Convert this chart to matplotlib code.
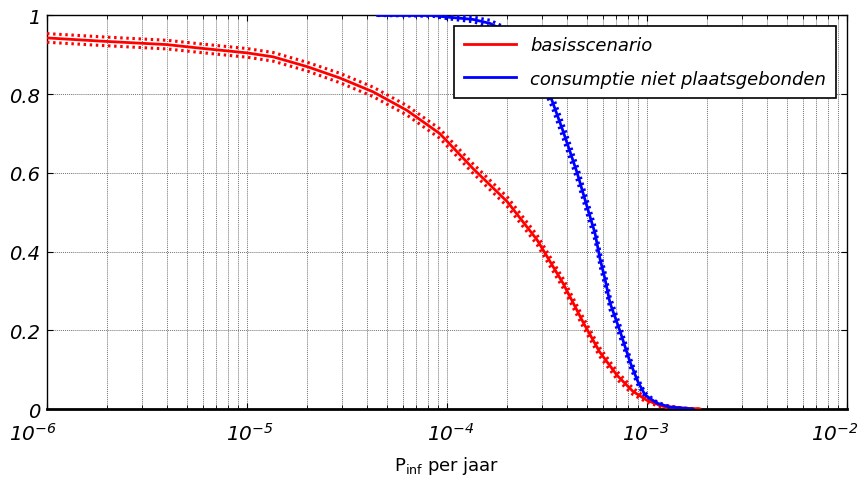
import numpy as np
import matplotlib.pyplot as plt
from matplotlib.ticker import LogLocator, NullFormatter

# basisscenario
red_p = [1.0e-6, 1.84e-6, 3.98e-6, 5.82e-6, 1.0e-5, 1.35e-5, 2.0e-5, 2.92e-5,
         4.27e-5, 6.3e-5, 9.2e-5, 1.35e-4, 2.0e-4, 2.82e-4, 3.8e-4, 4.8e-4,
         5.8e-4, 7.1e-4, 8.5e-4, 1.0e-3, 1.2e-3, 1.5e-3, 1.84e-3]
red_y = [0.943, 0.935, 0.926, 0.917, 0.905, 0.895, 0.870, 0.841,
         0.806, 0.759, 0.700, 0.611, 0.527, 0.430, 0.320, 0.220,
         0.145, 0.085, 0.045, 0.022, 0.007, 0.002, 0.0]
red_band = [0.011, 0.011, 0.011, 0.011, 0.011, 0.011, 0.011, 0.012,
            0.012, 0.012, 0.012, 0.012, 0.012, 0.012, 0.012, 0.012,
            0.011, 0.010, 0.008, 0.005, 0.003, 0.001, 0.0]

# consumptie niet plaatsgebonden
blue_p = [4.5e-5, 8.5e-5, 1.0e-4, 1.35e-4, 1.64e-4, 1.95e-4, 2.32e-4, 2.8e-4,
          3.35e-4, 3.8e-4, 4.47e-4, 5.01e-4, 5.5e-4, 5.82e-4, 6.17e-4, 6.53e-4,
          7.33e-4, 8.22e-4, 9.0e-4, 9.77e-4, 1.12e-3, 1.3e-3, 1.7e-3]
blue_y = [1.0, 1.0, 0.996, 0.99, 0.98, 0.96, 0.925, 0.865,
          0.784, 0.707, 0.601, 0.515, 0.446, 0.382, 0.33, 0.27,
          0.198, 0.12, 0.07, 0.036, 0.015, 0.005, 0.0]
blue_band = [0.0, 0.002, 0.004, 0.006, 0.008, 0.010, 0.012, 0.014,
             0.016, 0.018, 0.018, 0.018, 0.018, 0.018, 0.018, 0.017,
             0.015, 0.012, 0.009, 0.006, 0.003, 0.001, 0.0]

x_ticks = [1e-6, 1e-5, 1e-4, 1e-3, 1e-2]
x_labels = [r'$10^{-6}$', r'$10^{-5}$', r'$10^{-4}$', r'$10^{-3}$', r'$10^{-2}$']
x_label_dx = [-10, 2, 3, -1, -9]  # points
y_ticks = [0, 0.2, 0.4, 0.6, 0.8, 1.0]
y_labels = ['0', '0.2', '0.4', '0.6', '0.8', '1']

plt.rcParams['font.family'] = ['DejaVu Sans']
plt.rcParams['mathtext.fontset'] = 'custom'
plt.rcParams['mathtext.rm'] = 'DejaVu Sans:italic'
plt.rcParams['mathtext.it'] = 'DejaVu Sans:italic'
plt.rcParams['mathtext.sf'] = 'DejaVu Sans'

fig = plt.figure(figsize=(8.64, 4.85), dpi=100)
ax = fig.add_axes([0.0544, 0.1546, 0.9259, 0.8114])


def draw(p, y, band, color, label):
    y = np.array(y)
    band = np.array(band)
    for sign in (1, -1):
        ax.plot(p, np.clip(y + sign * band, 0, 1), color=color, lw=2.2,
                linestyle=(0, (0.8, 1.2)), zorder=3)
    ax.plot(p, y, color=color, lw=2, label=label, zorder=4)


draw(red_p, red_y, red_band, 'red', 'basisscenario')
draw(blue_p, blue_y, blue_band, 'blue', 'consumptie niet plaatsgebonden')

ax.set_xscale('log')
ax.set_xlim(1e-6, 1e-2)
ax.set_ylim(0, 1)
ax.xaxis.set_minor_locator(LogLocator(base=10, subs=np.arange(2, 10)))
ax.xaxis.set_minor_formatter(NullFormatter())
ax.set_xticks(x_ticks)
ax.set_xticklabels([])
ax.set_yticks(y_ticks)
ax.set_yticklabels(y_labels, fontsize=14, style='italic')

# decade labels, placed by hand so the outer ones stay inside the figure
for p, lbl, dx in zip(x_ticks, x_labels, x_label_dx):
    ax.annotate(lbl, xy=(p, 0), xycoords=('data', 'axes fraction'),
                xytext=(dx, -9), textcoords='offset points',
                ha='center', va='top', fontsize=14.5)

ax.tick_params(which='both', direction='in', top=True, right=True)
ax.tick_params(which='major', length=4, width=0.8)
ax.tick_params(which='minor', length=3, width=0.6)
ax.tick_params(axis='y', pad=5)

ax.grid(True, which='major', axis='both', color='0.45', linestyle=(0, (1, 1)), lw=0.7)
ax.grid(True, which='minor', axis='x', color='0.45', linestyle=(0, (1, 1)), lw=0.7)
ax.set_axisbelow(True)

for side in ['top', 'right', 'left']:
    ax.spines[side].set_linewidth(1.0)
ax.spines['bottom'].set_linewidth(2.0)

ax.set_xlabel(r'P$_{\mathsf{inf}}$ per jaar', fontsize=13, labelpad=29)

leg = ax.legend(loc='upper right', prop={'style': 'italic', 'size': 13},
                fancybox=False, framealpha=1, edgecolor='black',
                handlelength=2.9, borderaxespad=0.6, labelspacing=0.85,
                borderpad=0.55)
leg.get_frame().set_linewidth(1.2)

plt.savefig('out.png', dpi=100)
